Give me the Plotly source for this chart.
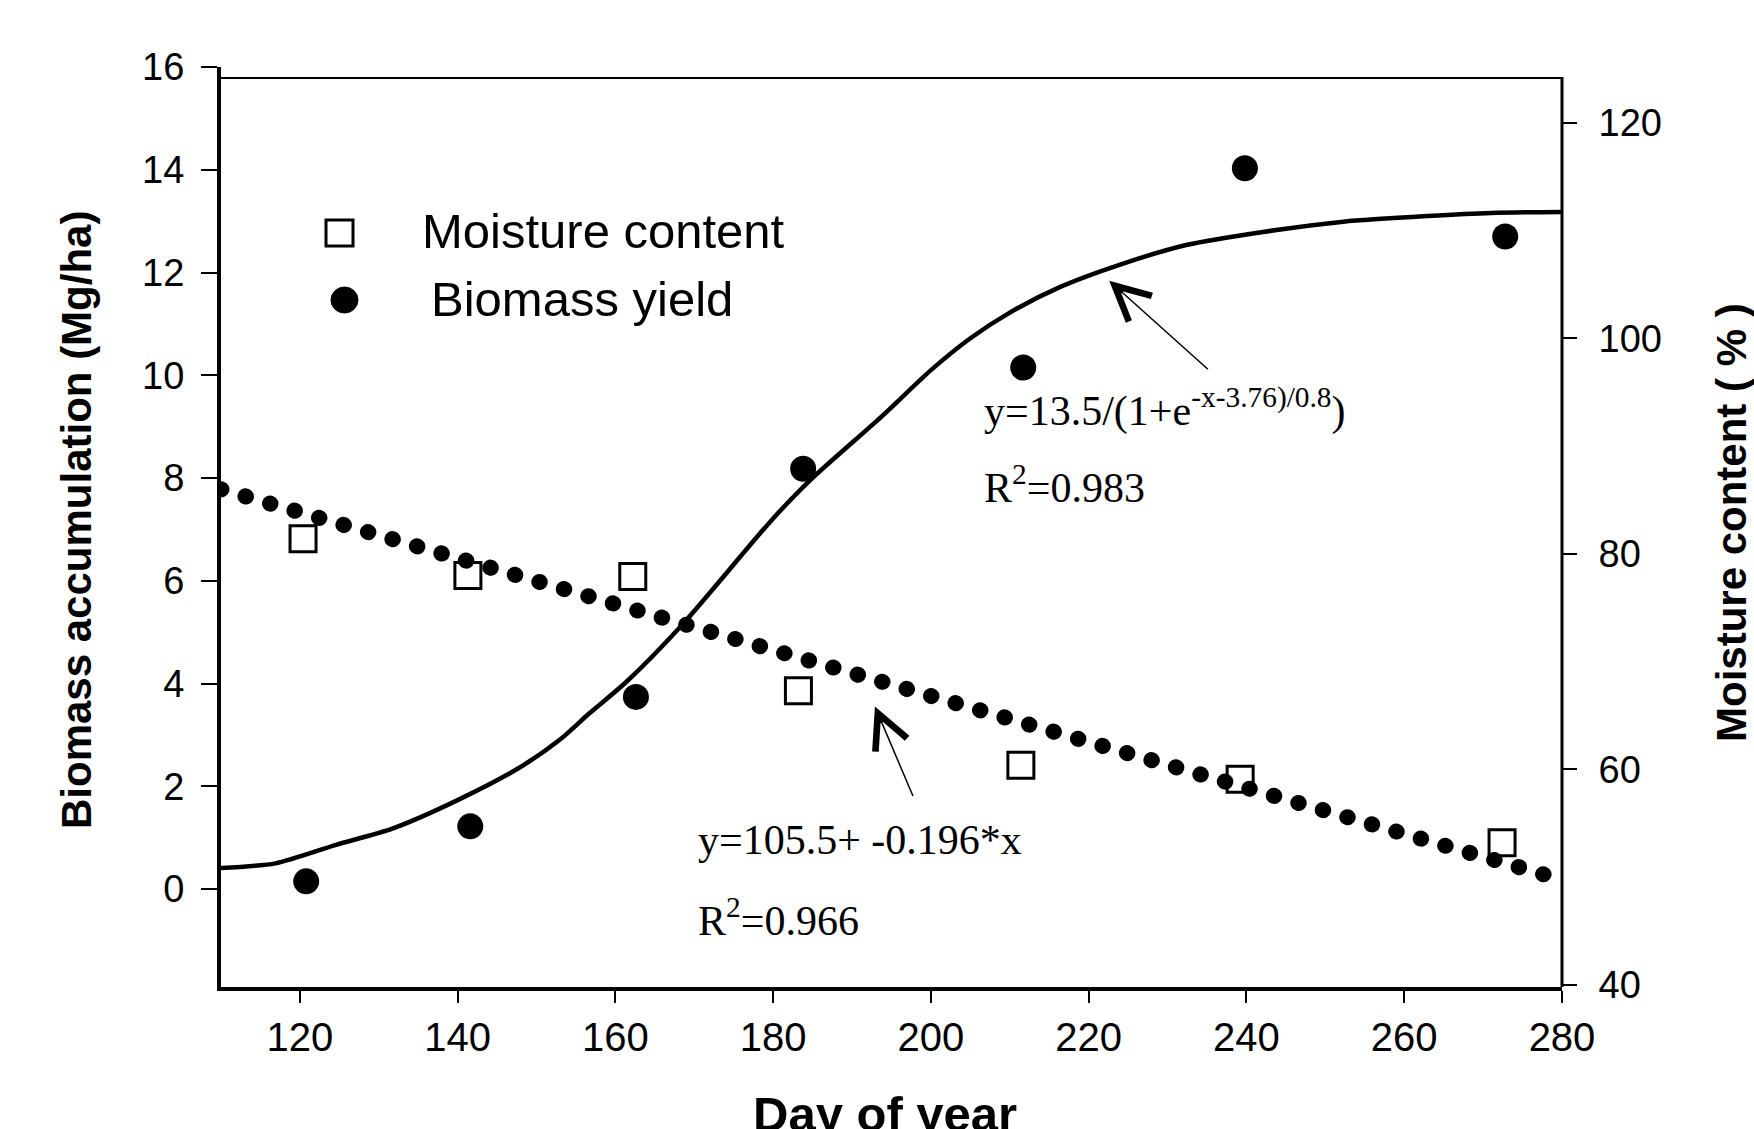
import plotly.graph_objects as go

# ---------------- data ----------------
moist_day = [120.4, 141.3, 162.2, 183.2, 211.4, 239.2, 272.4]
moist_val = [81.4, 78.0, 77.9, 67.3, 60.4, 59.1, 53.2]

bio_day = [120.8, 141.6, 162.6, 183.8, 211.7, 239.8, 272.8]
bio_val = [0.15, 1.22, 3.74, 8.18, 10.15, 14.03, 12.70]

fit_day = [110.0, 116.9, 124.6, 131.8, 140.0, 147.7, 152.9, 156.7, 161.3, 168.5,
           179.8, 184.7, 193.7, 200.0, 205.0, 210.0, 216.4, 223.9, 232.5, 242.1,
           252.3, 263.0, 271.0, 280.0]
fit_val = [0.41, 0.50, 0.86, 1.18, 1.73, 2.35, 2.90, 3.42, 4.02, 5.15,
           7.18, 7.96, 9.19, 10.10, 10.72, 11.22, 11.72, 12.15, 12.54, 12.79,
           12.99, 13.10, 13.16, 13.18]

lin_day = [110.0, 278.0]
lin_val = [86.0, 50.2]

x_ticks = [120, 140, 160, 180, 200, 220, 240, 260, 280]
y_ticks = [0, 2, 4, 6, 8, 10, 12, 14, 16]
y2_ticks = [40, 60, 80, 100, 120]

# ---------------- geometry helpers ----------------
W, H = 1754, 1129
ML, MR, MT, MB = 221, 192, 67, 142
PW, PH = W - ML - MR, H - MT - MB


def px_x(px):
    return (px - ML) / PW


def px_y(py):
    return (H - MB - py) / PH


fig = go.Figure()

fig.add_trace(go.Scatter(
    x=lin_day, y=lin_val, yaxis="y2", mode="lines",
    line=dict(color="black", width=16, dash="0.5px,25px"),
    hoverinfo="skip", showlegend=False))

fig.add_trace(go.Scatter(
    x=fit_day, y=fit_val, mode="lines",
    line=dict(color="black", width=4.5, shape="spline", smoothing=0.7),
    hoverinfo="skip", showlegend=False))

fig.add_trace(go.Scatter(
    x=moist_day, y=moist_val, yaxis="y2", mode="markers", name="Moisture content",
    marker=dict(symbol="square-open", size=26, color="black", line=dict(width=3, color="black")),
    showlegend=False))

fig.add_trace(go.Scatter(
    x=bio_day, y=bio_val, mode="markers", name="Biomass yield",
    marker=dict(symbol="circle", size=26, color="black"),
    showlegend=False))

tick_font = dict(family="Liberation Sans, Arial", size=38, color="black")

fig.update_layout(
    width=W, height=H,
    margin=dict(l=ML, r=MR, t=MT, b=MB),
    paper_bgcolor="white", plot_bgcolor="white",
    showlegend=False,
    xaxis=dict(range=[110, 280], tickvals=x_ticks, ticks="outside", ticklen=12, tickwidth=2,
               tickcolor="black", showline=True, linewidth=4, linecolor="black",
               showgrid=False, zeroline=False, ticklabelstandoff=0,
               tickfont=dict(family="Liberation Sans, Arial", size=40, color="black")),
    yaxis=dict(range=[-1.907, 16.0], tickvals=y_ticks, ticks="outside", ticklen=16, tickwidth=2,
               tickcolor="black", showline=True, linewidth=4, linecolor="black",
               showgrid=False, zeroline=False, ticklabelstandoff=9, tickfont=tick_font),
    yaxis2=dict(range=[39.82, 125.17], tickvals=y2_ticks, overlaying="y", side="right",
                ticks="outside", ticklen=14, tickwidth=2, tickcolor="black",
                showline=False, showgrid=False, zeroline=False, ticklabelstandoff=14,
                tickfont=tick_font),
)

# top frame line and right spine
fig.add_shape(type="line", xref="paper", yref="paper", x0=0, x1=1,
              y0=px_y(78), y1=px_y(78), line=dict(color="black", width=2))
fig.add_shape(type="line", xref="paper", yref="paper", x0=1, x1=1,
              y0=0, y1=px_y(77), line=dict(color="black", width=3))

# manual legend
fig.add_shape(type="rect", xref="paper", yref="paper",
              x0=px_x(326), x1=px_x(353), y0=px_y(246), y1=px_y(220),
              line=dict(color="black", width=3), fillcolor="rgba(0,0,0,0)")
fig.add_shape(type="circle", xref="paper", yref="paper",
              x0=px_x(331), x1=px_x(358), y0=px_y(313), y1=px_y(287),
              line=dict(color="black", width=1), fillcolor="black")

leg_font = dict(family="Liberation Sans, Arial", size=49, color="black")
fig.add_annotation(text="Moisture content", xref="paper", yref="paper",
                   x=px_x(420), y=px_y(231), xanchor="left", yanchor="middle",
                   showarrow=False, font=leg_font)
fig.add_annotation(text="Biomass yield", xref="paper", yref="paper",
                   x=px_x(429), y=px_y(299), xanchor="left", yanchor="middle",
                   showarrow=False, font=leg_font)

# axis titles
title_font = dict(family="Liberation Sans, Arial", size=42, color="black")
fig.add_annotation(text="<b>Biomass accumulation (Mg/ha)</b>", xref="paper", yref="paper",
                   x=px_x(76), y=px_y(520), textangle=-90, showarrow=False,
                   xanchor="center", yanchor="middle", font=title_font)
fig.add_annotation(text="<b>Moisture content ( % )</b>", xref="paper", yref="paper",
                   x=px_x(1731), y=px_y(523), textangle=-90, showarrow=False,
                   xanchor="center", yanchor="middle", font=title_font)
fig.add_annotation(text="<b>Day of year</b>", xref="paper", yref="paper",
                   x=px_x(885), y=px_y(1114), showarrow=False,
                   xanchor="center", yanchor="middle",
                   font=dict(family="Liberation Sans, Arial", size=49, color="black"))

# equations
eq_font = dict(family="Liberation Serif, Times New Roman", size=42, color="black")
fig.add_annotation(text="y=13.5/(1+e<sup>-x-3.76)/0.8</sup>)", xref="paper", yref="paper",
                   x=px_x(982), y=px_y(408), xanchor="left", yanchor="middle",
                   showarrow=False, font=eq_font)
fig.add_annotation(text="R<sup>2</sup>=0.983", xref="paper", yref="paper",
                   x=px_x(982), y=px_y(484), xanchor="left", yanchor="middle",
                   showarrow=False, font=eq_font)
fig.add_annotation(text="y=105.5+ -0.196*x", xref="paper", yref="paper",
                   x=px_x(696), y=px_y(840), xanchor="left", yanchor="middle",
                   showarrow=False, font=eq_font)
fig.add_annotation(text="R<sup>2</sup>=0.966", xref="paper", yref="paper",
                   x=px_x(696), y=px_y(917), xanchor="left", yanchor="middle",
                   showarrow=False, font=eq_font)

# arrows
fig.add_annotation(x=192.9, y=65.85, xref="x", yref="y2", ax=197.8, ay=57.4,
                   axref="x", ayref="y2", text="", showarrow=True, arrowhead=5,
                   arrowsize=4.5, arrowwidth=1.5, arrowcolor="black")
fig.add_annotation(x=222.6, y=11.84, xref="x", yref="y", ax=235.3, ay=10.09,
                   axref="x", ayref="y", text="", showarrow=True, arrowhead=5,
                   arrowsize=4.5, arrowwidth=1.5, arrowcolor="black")

post = """
var gd = document.getElementById('{plot_id}');
function roundDots(){
  gd.querySelectorAll('path.js-line').forEach(function(p){
    var d = p.style.strokeDasharray;
    if (d && d !== 'none' && d !== '') { p.style.strokeLinecap = 'round'; }
  });
}
roundDots();
gd.on('plotly_afterplot', roundDots);
"""

fig.write_html("out.html", post_script=post)
